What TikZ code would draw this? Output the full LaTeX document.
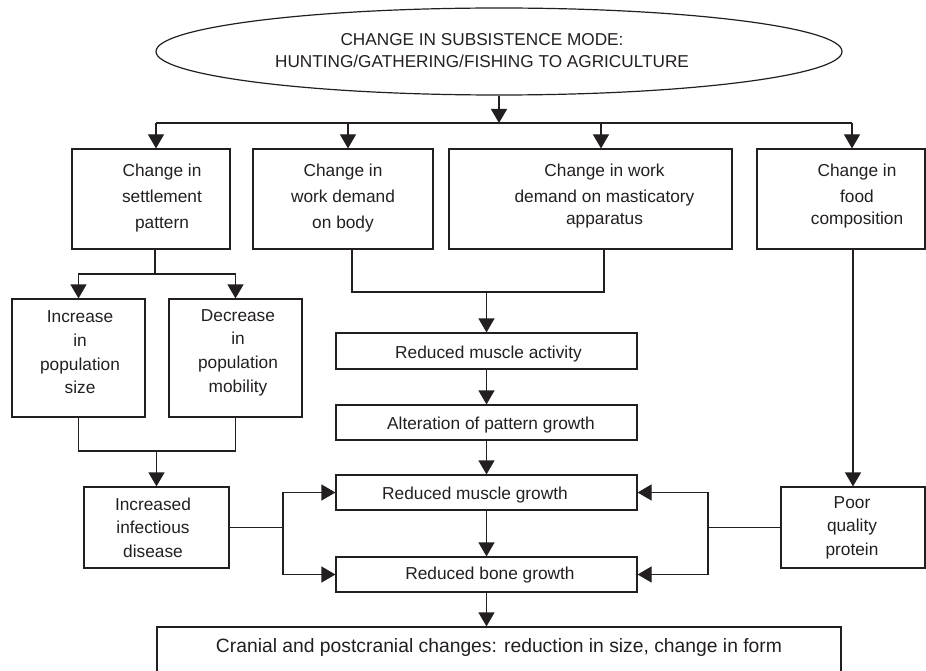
\documentclass[tikz,border=0pt]{standalone}
\usepackage{fontspec}
\setmainfont{Liberation Sans}
\usetikzlibrary{shapes.geometric,arrows.meta}
\definecolor{ink}{RGB}{35,31,32}
\begin{document}
\begin{tikzpicture}[x=1pt,y=-1pt,
  box/.style={draw=ink, line width=1.2pt, rectangle, inner sep=0pt},
  txt/.style={text=ink, align=center, inner sep=0pt, font=\fontsize{17.3}{23.6}\selectfont},
  txttop/.style={txt, font=\fontsize{17.3}{26}\selectfont},
  link/.style={draw=ink, line width=1.2pt},
  arr/.style={link, -{Triangle[length=14pt,width=16pt]}}
]
\clip (0,0) rectangle (926,671);

% top ellipse
\node[ellipse, draw=ink, line width=1.2pt, minimum width=686pt, minimum height=87pt,
      inner sep=0pt] (ell) at (499,51.5) {};
\node[txt, font=\fontsize{17.2}{22}\selectfont] (ellt) at (482,51)
  {CHANGE IN SUBSISTENCE MODE:\\HUNTING/GATHERING/FISHING TO AGRICULTURE};

% first row boxes
\node[box, minimum width=158pt, minimum height=100pt] (b1) at (151,199) {};
\node[txttop] (b1t) at (162,198) {Change in\\settlement\\pattern};
\node[box, minimum width=180pt, minimum height=100pt] (b2) at (343,199) {};
\node[txttop] (b2t) at (343,198) {Change in\\work demand\\on body};
\node[box, minimum width=283pt, minimum height=100pt] (b3) at (590.5,199) {};
\node[txttop] (b3t) at (604.5,196) {Change in work\\demand on masticatory\\[-4pt]apparatus};
\node[box, minimum width=168pt, minimum height=100pt] (b4) at (841,199) {};
\node[txttop] (b4t) at (857,196) {Change in\\food\\[-4pt]composition};

% settlement sub-boxes
\node[box, minimum width=133pt, minimum height=118pt] (inc) at (78.5,358) {};
\node[txt] (inct) at (80,352.5) {Increase\\in\\population\\size};
\node[box, minimum width=133pt, minimum height=118pt] (dec) at (235.5,358) {};
\node[txt] (dect) at (238,352.5) {Decrease\\in\\population\\mobility};

% side boxes
\node[box, minimum width=145pt, minimum height=81pt] (inf) at (156.5,527.5) {};
\node[txt] (inft) at (153,527.5) {Increased\\infectious\\disease};
\node[box, minimum width=144pt, minimum height=81pt] (poor) at (853,527.5) {};
\node[txt] (poort) at (852,527.5) {Poor\\quality\\protein};

% central column
\node[box, minimum width=301pt, minimum height=36pt] (rma) at (486.5,351) {};
\node[txt] (rmat) at (488.5,354) {Reduced muscle activity};
\node[box, minimum width=301pt, minimum height=35pt] (alt) at (486.5,422.5) {};
\node[txt] (altt) at (491,425) {Alteration of pattern growth};
\node[box, minimum width=301pt, minimum height=35pt] (mg) at (486.5,492.5) {};
\node[txt] (mgt) at (475,495) {Reduced muscle growth};
\node[box, minimum width=301pt, minimum height=35pt] (bg) at (486.5,574.5) {};
\node[txt] (bgt) at (490,575) {Reduced bone growth};

% bottom box
\node[box, minimum width=684pt, minimum height=54pt] (bot) at (499,654) {};
\node[txt, font=\fontsize{19.3}{24}\selectfont] (bott) at (499,648)
  {Cranial and postcranial changes: reduction in size, change in form};

% junction coordinates
\coordinate (d1) at (156,123);
\coordinate (d2) at (348,123);
\coordinate (d3) at (601,123);
\coordinate (d4) at (852,123);
\coordinate (s1) at (155,274);
\coordinate (j2) at (156.5,451);
\coordinate (j3) at (486.5,292);
\coordinate (jl) at (283,527.5);
\coordinate (jr) at (708,527.5);

% distribution from ellipse
\draw[arr] (ell.south) -- (ell.south |- d1);
\draw[link] (d1) -- (d4);
\draw[arr] (d1) -- (d1 |- b1.north);
\draw[arr] (d2) -- (d2 |- b2.north);
\draw[arr] (d3) -- (d3 |- b3.north);
\draw[arr] (d4) -- (d4 |- b4.north);

% settlement branch
\draw[link] (s1 |- b1.south) -- (s1);
\draw[arr] (s1) -| (inc.north);
\draw[arr] (s1) -| (dec.north);
\draw[link] (inc.south) |- (j2);
\draw[link] (dec.south) |- (j2);
\draw[arr] (j2) -- (inf.north);

% work demand branches
\draw[link] ([xshift=9pt]b2.south) |- (j3);
\draw[link] ([xshift=13.5pt]b3.south) |- (j3);
\draw[arr] (j3) -- (rma.north);

% central chain
\draw[arr] (rma.south) -- (alt.north);
\draw[arr] (alt.south) -- (mg.north);
\draw[arr] (mg.south) -- (bg.north);
\draw[arr] (bg.south) -- (bg.south |- bot.north);

% food composition branch
\draw[arr] (poor.north |- b4.south) -- (poor.north);

% infectious disease feeds
\draw[link] (inf.east) -- (jl);
\draw[arr] (jl) |- (mg.west);
\draw[arr] (jl) |- (bg.west);

% poor quality protein feeds
\draw[link] (poor.west) -- (jr);
\draw[arr] (jr) |- (mg.east);
\draw[arr] (jr) |- (bg.east);
\end{tikzpicture}
\end{document}
